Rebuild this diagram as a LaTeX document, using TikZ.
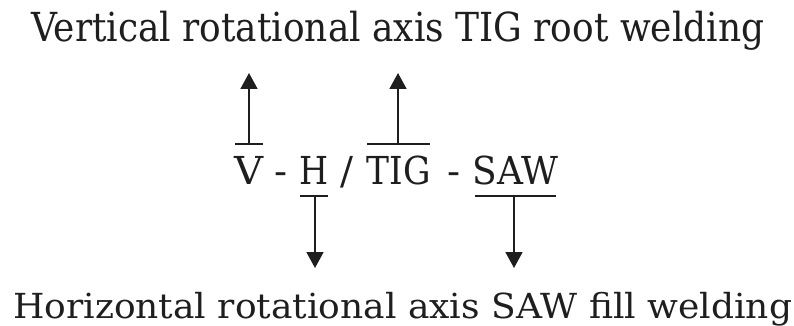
\documentclass[tikz,border=0pt]{standalone}
\usepackage{fontspec}
\setmainfont{DejaVu Serif}
\usepackage{graphicx}
\usetikzlibrary{arrows.meta}
\definecolor{ink}{RGB}{30,30,30}
\tikzset{
  lbl/.style={anchor=base, inner sep=0pt, text=ink},
  bar/.style={draw=ink, line width=1.7pt},
  arr/.style={draw=ink, line width=1.7pt, -{Triangle[length=16pt,width=17pt]}}
}
\newcommand\fitw[2]{\resizebox{#1}{\height}{#2}}
\begin{document}
\begin{tikzpicture}[x=1pt,y=-1pt]
\useasboundingbox (0,0) rectangle (794,326);
% top and bottom captions
\node[lbl, anchor=base west] (toptext) at (31,41.7)
  {\fontsize{40}{40}\selectfont\fitw{733pt}{Vertical rotational axis TIG root welding}};
\node[lbl, anchor=base west] (bottext) at (13,318)
  {\fontsize{34.5}{34.5}\selectfont\fitw{779pt}{Horizontal rotational axis SAW fill welding}};
% middle code
\node[lbl] (V) at (249,184) {\fontsize{38.5}{38.5}\selectfont\fitw{29pt}{V}};
\node[lbl] (d1) at (281,184) {\fontsize{38.5}{38.5}\selectfont -};
\node[lbl] (H) at (314,184) {\fontsize{38.5}{38.5}\selectfont\fitw{29pt}{H}};
\node[lbl] (sl) at (347,184) {\fontsize{38.5}{38.5}\selectfont /};
\node[lbl] (TIG) at (398.5,184) {\fontsize{38.5}{38.5}\selectfont\fitw{64pt}{TIG}};
\node[lbl] (d2) at (454,184) {\fontsize{38.5}{38.5}\selectfont -};
\node[lbl] (SAW) at (515.5,184) {\fontsize{38.5}{38.5}\selectfont\fitw{86pt}{SAW}};
% bars
\coordinate (Vl) at (235,144); \coordinate (Vr) at (263,144);
\coordinate (Tl) at (367,144); \coordinate (Tr) at (430,144);
\coordinate (Hl) at (300,196); \coordinate (Hr) at (328,196);
\coordinate (Sl) at (475,196); \coordinate (Sr) at (556,196);
\draw[bar] (Vl) -- (Vr);
\draw[bar] (Tl) -- (Tr);
\draw[bar] (Hl) -- (Hr);
\draw[bar] (Sl) -- (Sr);
% arrows
\coordinate (Vb) at (249,144); \coordinate (Vt) at (249,73);
\coordinate (Tb) at (398,144); \coordinate (Tt) at (398,73);
\coordinate (Hb) at (315,196); \coordinate (Ht) at (315,268);
\coordinate (Sb) at (514,196); \coordinate (St) at (514,268);
\draw[arr] (Vb) -- (Vt);
\draw[arr] (Tb) -- (Tt);
\draw[arr] (Hb) -- (Ht);
\draw[arr] (Sb) -- (St);
\end{tikzpicture}
\end{document}
